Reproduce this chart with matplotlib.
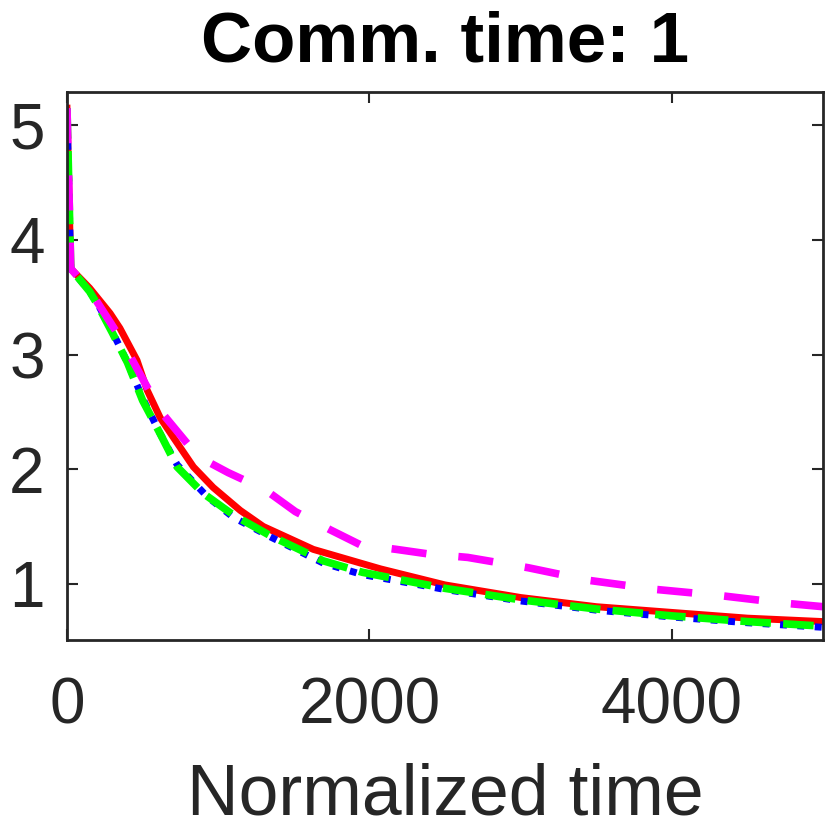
import matplotlib.pyplot as plt
import numpy as np

plt.rcParams['font.family'] = ['Liberation Sans', 'DejaVu Sans']

# curves
t_red = [0, 25, 150, 285, 350, 463, 530, 616, 702, 836, 967, 1146, 1298, 1629, 2073, 2500, 3000, 3500, 4000, 4500, 5000]
y_red = [5.15, 3.75, 3.58, 3.36, 3.23, 2.95, 2.69, 2.45, 2.28, 2.02, 1.84, 1.64, 1.5, 1.3, 1.13, 0.99, 0.88, 0.8, 0.75, 0.7, 0.67]

t_blue = [0, 25, 150, 200, 300, 400, 500, 616, 728, 927, 1100, 1344, 1695, 1954, 2500, 3000, 3500, 4000, 4500, 5000]
y_blue = [5.15, 3.75, 3.55, 3.45, 3.2, 2.93, 2.62, 2.31, 2.04, 1.76, 1.58, 1.41, 1.18, 1.08, 0.95, 0.85, 0.77, 0.71, 0.66, 0.62]

t_green = [0, 25, 150, 200, 300, 400, 500, 616, 728, 900, 1100, 1344, 1695, 1954, 2500, 3000, 3500, 4000, 4500, 5000]
y_green = [5.15, 3.75, 3.55, 3.44, 3.19, 2.93, 2.6, 2.31, 2.02, 1.79, 1.6, 1.42, 1.2, 1.1, 0.96, 0.86, 0.78, 0.72, 0.67, 0.63]

t_mag = [0, 25, 150, 350, 616, 867, 1066, 1311, 1510, 1742, 1940, 2179, 2391, 2650, 3050, 3450, 3900, 4300, 4750, 5000]
y_mag = [5.15, 3.75, 3.56, 3.15, 2.51, 2.11, 1.97, 1.82, 1.63, 1.47, 1.34, 1.3, 1.26, 1.23, 1.14, 1.03, 0.95, 0.9, 0.83, 0.8]

xticks = [0, 2000, 4000]
yticks = [1, 2, 3, 4, 5]

fig = plt.figure(figsize=(8.3, 8.3), dpi=100)
ax = fig.add_axes([0.0807, 0.229, 0.911, 0.66])

ax.plot(t_red, y_red, color='#ff0000', lw=5, ls='-')
ax.plot(t_blue, y_blue, color='#0000ff', lw=5, ls=(0, (1, 1.5)))
ax.plot(t_green, y_green, color='#00ff00', lw=5.5, ls=(0, (4, 1.6)))
ax.plot(t_mag, y_mag, color='#ff00ff', lw=5.5, ls=(0, (4.6, 4.2)))

ax.set_xlim(0, 5000)
ax.set_ylim(0.51, 5.29)
ax.set_xticks(xticks)
ax.set_yticks(yticks)
ax.tick_params(direction='in', length=8, width=1.5, labelsize=46, colors='#262626',
               top=True, right=True)
ax.tick_params(axis='y', pad=16)
ax.tick_params(axis='x', pad=26)
for s in ax.spines.values():
    s.set_linewidth(2)
    s.set_color('#262626')

ax.set_xlabel('Normalized time', fontsize=51.5, color='#262626', labelpad=19)
ax.set_title('Comm. time: 1', fontsize=51, fontweight='bold', pad=22)

fig.savefig('out.png', dpi=100)
